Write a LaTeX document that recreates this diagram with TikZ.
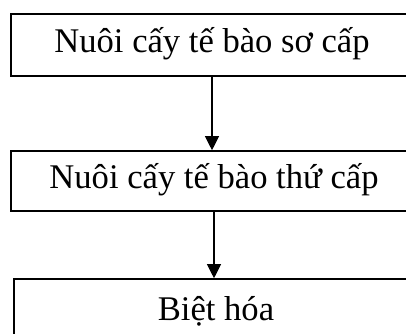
\documentclass[tikz,border=0pt]{standalone}
\usepackage{fontspec}
\setmainfont{Liberation Serif}
\usetikzlibrary{arrows.meta}
\begin{document}
\begin{tikzpicture}[x=1pt,y=-1pt,
  stepbox/.style={draw, line width=1.6pt, rectangle, inner sep=0pt,
    minimum height=61pt,
    font=\fontsize{34.6}{40}\selectfont, text height=23pt, text depth=8pt},
  flow/.style={line width=1.1pt, -{Triangle[width=14pt,length=14pt]}}]
\useasboundingbox (0,0) rectangle (406,333);
\clip (0,0) rectangle (406,333);
\node[stepbox, minimum width=402pt, minimum height=62pt] (b1) at (212,45) {Nuôi cấy tế bào sơ cấp};
\node[stepbox, minimum width=406pt, minimum height=60pt] (b2) at (214,181) {Nuôi cấy tế bào thứ cấp};
\node[stepbox, minimum width=404pt, minimum height=60pt, text height=27pt, text depth=4pt] (b3) at (216,309) {Biệt hóa};
\draw[flow] (b1.south) -- (b1.south |- b2.north);
\draw[flow] (b2.south) -- (b2.south |- b3.north);
\end{tikzpicture}
\end{document}
